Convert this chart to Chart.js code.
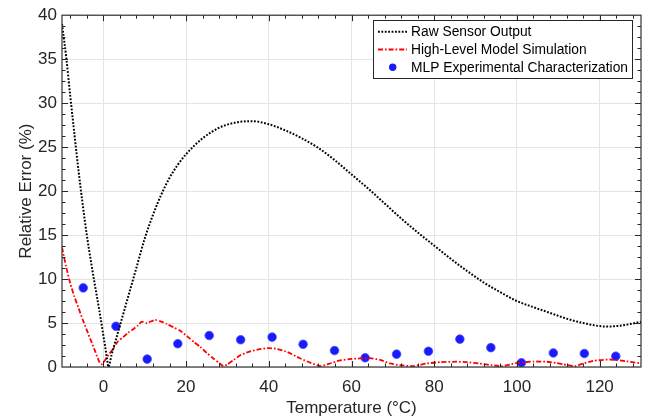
<!DOCTYPE html>
<html>
<head>
<meta charset="utf-8">
<script src="https://cdn.jsdelivr.net/npm/chart.js@4.4.1/dist/chart.umd.min.js"></script>
<style>html,body{margin:0;padding:0;background:#fff;}canvas{display:block;}</style>
</head>
<body>
<canvas id="c" width="653" height="420"></canvas>
<script>
const FONT = '"Liberation Sans", Arial, Helvetica, sans-serif';
const xTicks = [0, 20, 40, 60, 80, 100, 120];
const yTicks = [0, 5, 10, 15, 20, 25, 30, 35, 40];

const rawX = [-10, -9, -8, -7, -6, -5, -4, -3, -2, -1, 0, 1, 1.2, 2, 4, 6, 8, 10, 12, 14, 16, 18, 20, 24, 28, 32, 36, 40, 44, 48, 52, 56, 60, 64, 68, 72, 76, 80, 84, 88, 92, 96, 100, 104, 108, 112, 116, 120, 122, 124, 127, 130];
const rawY = [39, 35.3, 30.8, 26.5, 22.3, 18.5, 15, 12, 9.2, 6.5, 3.6, 0.6, 0, 1.4, 4.7, 8.0, 11.3, 14.6, 17.3, 19.6, 21.5, 23.0, 24.2, 26.0, 27.2, 27.8, 27.95, 27.6, 26.9, 26.0, 24.9, 23.5, 21.9, 20.3, 18.6, 16.9, 15.3, 13.8, 12.3, 10.9, 9.6, 8.5, 7.5, 6.8, 6.15, 5.5, 5.0, 4.65, 4.6, 4.65, 4.85, 5.15];

const simX = [-10, -9, -8, -7, -6, -5, -4, -3, -2, -1, -0.5, 0, 1, 2.4, 3.5, 4.8, 6, 7.2, 8.3, 9.3, 10.5, 12.5, 14, 15.3, 17, 18.5, 20.5, 22, 23.4, 25, 26.6, 28, 29, 30, 31.5, 33, 35, 37.5, 40, 42, 44.5, 47.5, 50, 52.6, 54.5, 57.2, 60, 62, 64.5, 67, 69.3, 72, 74.9, 78.2, 81.5, 85.4, 88, 91, 94, 96.3, 98.5, 100.7, 104, 107.2, 109.5, 111.2, 114, 116, 118.5, 122.5, 126.5, 130];
const simY = [13.6, 11.4, 9.5, 8.0, 6.7, 5.4, 4.2, 3.0, 1.8, 0.6, 0.3, 0.5, 1.2, 2.1, 2.9, 3.4, 3.9, 4.3, 4.7, 5.15, 5.0, 5.35, 5.15, 4.9, 4.5, 4.15, 3.4, 2.8, 2.3, 1.6, 0.97, 0.45, 0.1, 0.3, 0.8, 1.3, 1.7, 2.0, 2.15, 2.05, 1.7, 1.0, 0.5, 0.1, 0.35, 0.75, 0.92, 0.97, 1.0, 0.8, 0.4, 0.2, 0.1, 0.4, 0.55, 0.6, 0.55, 0.4, 0.2, 0.1, 0.3, 0.5, 0.62, 0.6, 0.45, 0.3, 0.1, 0.4, 0.7, 0.85, 0.65, 0.4];

const mlpX = [-4.86, 3.05, 10.6, 18.0, 25.6, 33.2, 40.8, 48.3, 55.9, 63.3, 70.9, 78.6, 86.2, 93.7, 101.1, 108.8, 116.3, 123.9];
const mlpY = [9.0, 4.63, 0.9, 2.65, 3.58, 3.1, 3.4, 2.58, 1.87, 1.05, 1.46, 1.79, 3.17, 2.2, 0.48, 1.6, 1.53, 1.23];

const labels = ['Raw Sensor Output', 'High-Level Model Simulation', 'MLP Experimental Characterization'];

const zip = (xs, ys) => xs.map((x, i) => ({x: x, y: ys[i]}));

const BLACK_DASH = [1.8, 1.6];
const RED_DASH = [5, 2, 1.6, 2];

const axesPlugin = {
  id: 'matlabAxes',
  afterDraw(chart) {
    const ctx = chart.ctx;
    const a = chart.chartArea;
    const xs = chart.scales.x, ys = chart.scales.y;
    ctx.save();
    ctx.strokeStyle = '#262626';
    ctx.lineWidth = 1;
    const tick = (v, isX, len) => {
      ctx.beginPath();
      if (isX) {
        const p = Math.round(xs.getPixelForValue(v)) + 0.5;
        ctx.moveTo(p, a.bottom); ctx.lineTo(p, a.bottom - len);
        ctx.moveTo(p, a.top); ctx.lineTo(p, a.top + len);
      } else {
        const p = Math.round(ys.getPixelForValue(v)) + 0.5;
        ctx.moveTo(a.left, p); ctx.lineTo(a.left + len, p);
        ctx.moveTo(a.right, p); ctx.lineTo(a.right - len, p);
      }
      ctx.stroke();
    };
    for (let v = -8; v < 130; v += 4) tick(v, true, xTicks.includes(v) ? 6 : 3.5);
    for (let v = 1.25; v < 40; v += 1.25) tick(v, false, yTicks.includes(v) ? 6 : 3.5);
    ctx.strokeStyle = '#333333';
    ctx.lineWidth = 1.2;
    ctx.strokeRect(a.left, a.top, a.right - a.left, a.bottom - a.top);

    // legend
    const lx = 373.5, ly = 20.5, lw = 259, lh = 58;
    ctx.fillStyle = '#ffffff';
    ctx.fillRect(lx, ly, lw, lh);
    ctx.strokeStyle = '#262626';
    ctx.lineWidth = 1;
    ctx.strokeRect(lx, ly, lw, lh);
    const rows = [31.7, 49.5, 67.3];
    ctx.font = '13.8px ' + FONT;
    ctx.textBaseline = 'middle';
    ctx.textAlign = 'left';
    ctx.lineWidth = 2;
    ctx.strokeStyle = '#000000';
    ctx.setLineDash(BLACK_DASH);
    ctx.beginPath(); ctx.moveTo(378, rows[0]); ctx.lineTo(407, rows[0]); ctx.stroke();
    ctx.lineWidth = 1.8;
    ctx.strokeStyle = '#ff0000';
    ctx.setLineDash(RED_DASH);
    ctx.beginPath(); ctx.moveTo(378, rows[1]); ctx.lineTo(407, rows[1]); ctx.stroke();
    ctx.setLineDash([]);
    ctx.fillStyle = '#1a1aff';
    ctx.beginPath(); ctx.arc(392.7, rows[2], 3.7, 0, Math.PI * 2); ctx.fill();
    ctx.fillStyle = '#000000';
    labels.forEach((t, i) => ctx.fillText(t, 411, rows[i] + 0.5));
    ctx.restore();
  }
};

const tickCfg = {color: '#262626', font: {size: 17, family: FONT}, autoSkip: false, maxRotation: 0};

new Chart(document.getElementById('c'), {
  type: 'scatter',
  data: {
    datasets: [
      {
        label: labels[0], data: zip(rawX, rawY), showLine: true,
        borderColor: '#000000', borderWidth: 2, borderDash: BLACK_DASH,
        pointRadius: 0, cubicInterpolationMode: 'monotone', fill: false
      },
      {
        label: labels[1], data: zip(simX, simY), showLine: true,
        borderColor: '#ff0000', borderWidth: 1.8, borderDash: RED_DASH,
        pointRadius: 0, tension: 0.2, fill: false
      },
      {
        label: labels[2], data: zip(mlpX, mlpY), showLine: false,
        backgroundColor: '#1a1aff', borderColor: '#4a4aff', borderWidth: 0.8,
        pointRadius: 4.3
      }
    ]
  },
  options: {
    responsive: false,
    animation: false,
    layout: {padding: {left: 0, right: 12, top: 10, bottom: 0}},
    plugins: {legend: {display: false}, tooltip: {enabled: false}},
    scales: {
      x: {
        type: 'linear', min: -10, max: 130,
        afterBuildTicks(s) { s.ticks = xTicks.map(v => ({value: v})); },
        afterFit(s) { s.height = 53; },
        grid: {color: '#e4e4e4', lineWidth: 1, drawTicks: false},
        border: {display: false},
        ticks: Object.assign({padding: 10}, tickCfg),
        title: {display: true, text: 'Temperature (°C)', color: '#262626',
                font: {size: 17, family: FONT}, padding: {top: 0, bottom: 1}}
      },
      y: {
        type: 'linear', min: 0, max: 40,
        afterBuildTicks(s) { s.ticks = yTicks.map(v => ({value: v})); },
        afterFit(s) { s.width = 62; },
        grid: {color: '#e4e4e4', lineWidth: 1, drawTicks: false},
        border: {display: false},
        ticks: Object.assign({padding: 5}, tickCfg),
        title: {display: true, text: 'Relative Error (%)', color: '#262626',
                font: {size: 17, family: FONT}, padding: {top: 16, bottom: 0}}
      }
    }
  },
  plugins: [axesPlugin]
});
</script>
</body>
</html>
